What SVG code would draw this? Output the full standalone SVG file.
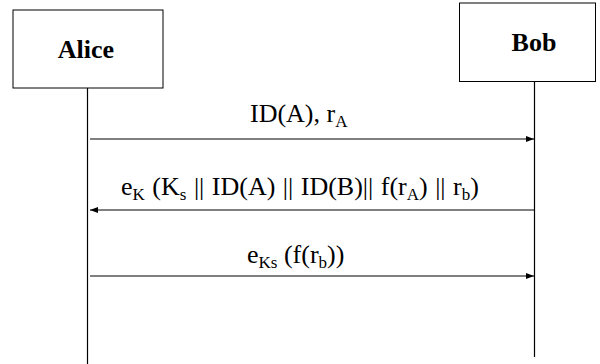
<svg xmlns="http://www.w3.org/2000/svg" width="600" height="364" viewBox="0 0 600 364">
<style>
.box{fill:#fff;stroke:#000;stroke-width:1}
.life{stroke:#000;stroke-width:1.2;fill:none}
.msg{stroke:#000;stroke-width:1;fill:none}
.name{font-family:"Liberation Serif","Times New Roman",serif;font-weight:bold;font-size:26px;text-anchor:middle;fill:#000}
.lbl{font-family:"Liberation Serif","Times New Roman",serif;font-size:26px;fill:#000}
.sub{font-size:17px}
</style>
<defs>
<marker id="ah" viewBox="0 0 8 6" refX="8" refY="3" markerWidth="8" markerHeight="6" markerUnits="userSpaceOnUse" orient="auto">
<path d="M0,0 L8,3 L0,6 Z" fill="#000"/>
</marker>
</defs>
<g id="alice">
<rect class="box" x="13" y="10" width="150" height="78"/>
<text class="name" x="86" y="58">Alice</text>
<line class="life" x1="87.5" y1="88" x2="87.5" y2="364"/>
</g>
<g id="bob">
<rect class="box" x="459.5" y="3" width="136" height="78.5"/>
<text class="name" x="534" y="51">Bob</text>
<line class="life" x1="534.5" y1="81.5" x2="534.5" y2="357"/>
</g>
<g id="connectors">
<line class="msg" x1="90" y1="139" x2="534" y2="139" marker-end="url(#ah)"/>
<line class="msg" x1="534" y1="210" x2="90" y2="210" marker-end="url(#ah)"/>
<line class="msg" x1="90" y1="276" x2="534" y2="276" marker-end="url(#ah)"/>
</g>
<g id="labels">
<text class="lbl" x="250" y="122">ID(A), r<tspan class="sub" dy="5">A</tspan></text>
<text class="lbl" x="121" y="195" word-spacing="1">e<tspan class="sub" dy="5">K</tspan><tspan dy="-5"> (K</tspan><tspan class="sub" dy="5">s</tspan><tspan dy="-5"> || ID(A) || ID(B)|| f(r</tspan><tspan class="sub" dy="5">A</tspan><tspan dy="-5">) || r</tspan><tspan class="sub" dy="5">b</tspan><tspan dy="-5">)</tspan></text>
<text class="lbl" x="247" y="263">e<tspan class="sub" dy="5">Ks</tspan><tspan dy="-5"> (f(r</tspan><tspan class="sub" dy="5">b</tspan><tspan dy="-5">))</tspan></text>
</g>
</svg>
